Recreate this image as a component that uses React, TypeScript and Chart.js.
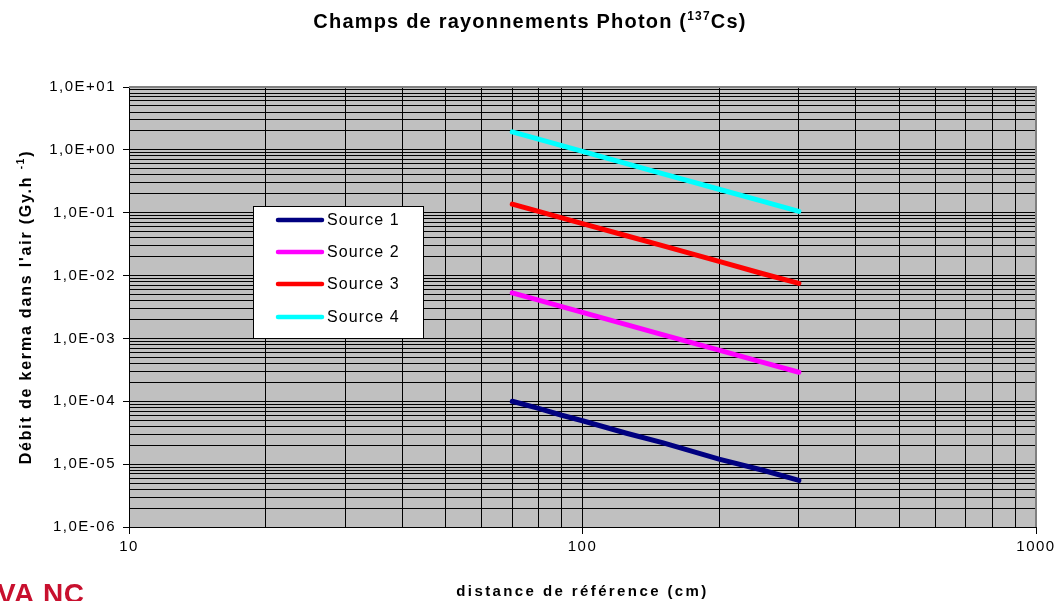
import React, { useEffect, useRef } from 'react';
import { Chart, registerables } from 'chart.js';

Chart.register(...registerables);

// ---- data ----
const distances = [70, 80, 90, 100, 125, 150, 200, 250, 300];
const source1 = [1.0e-4, 7.7e-5, 6.0e-5, 4.9e-5, 3.1e-5, 2.2e-5, 1.2e-5, 8.0e-6, 5.5e-6];
const source2 = [5.3e-3, 4.06e-3, 3.2e-3, 2.6e-3, 1.66e-3, 1.15e-3, 6.5e-4, 4.15e-4, 2.9e-4];
const source3 = [0.137, 0.105, 0.083, 0.067, 0.043, 0.03, 0.0168, 0.0107, 0.0075];
const source4 = [1.93, 1.48, 1.17, 0.945, 0.605, 0.42, 0.236, 0.151, 0.105];
const seriesLabels = ['Source 1', 'Source 2', 'Source 3', 'Source 4'];
const seriesColors = ['#000080', '#FF00FF', '#FF0000', '#00FFFF'];

const xDecades = [10, 100, 1000];
const xTickLabels = ['10', '100', '1000'];
const yDecades = [1e-6, 1e-5, 1e-4, 1e-3, 1e-2, 1e-1, 1, 10];
const yTickLabels = ['1,0E-06', '1,0E-05', '1,0E-04', '1,0E-03', '1,0E-02', '1,0E-01', '1,0E+00', '1,0E+01'];

const titleMain = 'Champs de rayonnements Photon (';
const titleSup = '137';
const titleEnd = 'Cs)';
const yTitleMain = "Débit de kerma dans l'air (Gy.h ";
const yTitleSup = '-1';
const yTitleEnd = ')';
const xTitle = 'distance de référence (cm)';
const logoText = 'VA NC';

const FONT = '"Liberation Sans", Arial, sans-serif';

function gridValues(decades: number[]) {
  const out: number[] = [];
  for (let i = 0; i < decades.length; i++) {
    const d = decades[i];
    if (i === decades.length - 1) {
      out.push(d);
    } else {
      for (let m = 1; m <= 9; m++) out.push(m * d);
    }
  }
  return out;
}

function decadeIndex(v: number, decades: number[]) {
  for (let i = 0; i < decades.length; i++) {
    if (Math.abs(v - decades[i]) / decades[i] < 1e-6) return i;
  }
  return -1;
}

function drawSupText(ctx: CanvasRenderingContext2D, parts: [string, string, string], size: number, supSize: number, ls: string) {
  ctx.font = `bold ${size}px ${FONT}`;
  (ctx as any).letterSpacing = ls;
  const w1 = ctx.measureText(parts[0]).width;
  const w3 = ctx.measureText(parts[2]).width;
  ctx.font = `bold ${supSize}px ${FONT}`;
  const w2 = ctx.measureText(parts[1]).width;
  const total = w1 + w2 + w3;
  let x = -total / 2;
  ctx.textAlign = 'left';
  ctx.textBaseline = 'alphabetic';
  ctx.font = `bold ${size}px ${FONT}`;
  ctx.fillText(parts[0], x, 0);
  x += w1;
  ctx.font = `bold ${supSize}px ${FONT}`;
  ctx.fillText(parts[1], x, -size * 0.42);
  x += w2;
  ctx.font = `bold ${size}px ${FONT}`;
  ctx.fillText(parts[2], x, 0);
}

const decorPlugin = {
  id: 'decor',
  beforeDraw(chart: any) {
    const { ctx, chartArea } = chart;
    ctx.save();
    ctx.fillStyle = '#FFFFFF';
    ctx.fillRect(0, 0, chart.width, chart.height);
    ctx.fillStyle = '#C0C0C0';
    ctx.fillRect(chartArea.left, chartArea.top, chartArea.right - chartArea.left, chartArea.bottom - chartArea.top);
    ctx.restore();
    (ctx as any).letterSpacing = '1.5px';
  },
  afterDraw(chart: any) {
    const { ctx, chartArea } = chart;
    ctx.save();
    ctx.strokeStyle = '#808080';
    ctx.lineWidth = 2;
    ctx.beginPath();
    ctx.moveTo(chartArea.left, chartArea.top);
    ctx.lineTo(chartArea.right, chartArea.top);
    ctx.lineTo(chartArea.right, chartArea.bottom);
    ctx.stroke();

    ctx.fillStyle = '#000000';
    // title
    ctx.save();
    ctx.translate(530, 28);
    drawSupText(ctx, [titleMain, titleSup, titleEnd], 20, 12, '1.2px');
    ctx.restore();

    // y title
    ctx.save();
    ctx.translate(31, (chartArea.top + chartArea.bottom) / 2);
    ctx.rotate(-Math.PI / 2);
    drawSupText(ctx, [yTitleMain, yTitleSup, yTitleEnd], 16, 10, '1.8px');
    ctx.restore();

    // x title
    ctx.font = `bold 15px ${FONT}`;
    (ctx as any).letterSpacing = '2.4px';
    ctx.textAlign = 'center';
    ctx.textBaseline = 'alphabetic';
    ctx.fillText(xTitle, (chartArea.left + chartArea.right) / 2, 596);

    // legend
    const bx = 253, by = 206, bw = 170, bh = 132;
    ctx.fillStyle = '#FFFFFF';
    ctx.fillRect(bx, by, bw, bh);
    ctx.strokeStyle = '#000000';
    ctx.lineWidth = 1;
    ctx.strokeRect(bx + 0.5, by + 0.5, bw, bh);
    const rows = [220, 252, 284, 317];
    ctx.font = `16px ${FONT}`;
    (ctx as any).letterSpacing = '1.1px';
    ctx.textAlign = 'left';
    ctx.textBaseline = 'middle';
    for (let i = 0; i < seriesLabels.length; i++) {
      ctx.strokeStyle = seriesColors[i];
      ctx.lineWidth = 4.5;
      ctx.lineCap = 'round';
      ctx.beginPath();
      ctx.moveTo(278, rows[i]);
      ctx.lineTo(322, rows[i]);
      ctx.stroke();
      ctx.fillStyle = '#000000';
      ctx.fillText(seriesLabels[i], 327, rows[i] + 1);
    }

    // logo fragment
    ctx.font = `bold 28px ${FONT}`;
    (ctx as any).letterSpacing = '0.5px';
    ctx.fillStyle = '#C8102E';
    ctx.textAlign = 'left';
    ctx.textBaseline = 'alphabetic';
    ctx.fillText(logoText, -3, 603);
    ctx.restore();
  },
};

export default function App() {
  const canvasRef = useRef<HTMLCanvasElement | null>(null);

  useEffect(() => {
    const canvas = canvasRef.current;
    if (!canvas) return;
    const series = [source1, source2, source3, source4];
    const xGrid = gridValues(xDecades);
    const yGrid = gridValues(yDecades);

    const chart = new Chart(canvas, {
      type: 'line',
      data: {
        datasets: series.map((vals, i) => ({
          label: seriesLabels[i],
          data: distances.map((d, j) => ({ x: d, y: vals[j] })),
          borderColor: seriesColors[i],
          backgroundColor: seriesColors[i],
          borderWidth: 5,
          borderCapStyle: 'round' as const,
          borderJoinStyle: 'round' as const,
          pointRadius: 0,
          tension: 0,
          fill: false,
        })),
      },
      options: {
        responsive: false,
        devicePixelRatio: 1,
        animation: false,
        layout: { padding: { top: 87, right: 23, bottom: 34, left: 0 } },
        plugins: {
          legend: { display: false },
          title: { display: false },
          tooltip: { enabled: false },
        },
        scales: {
          x: {
            type: 'logarithmic',
            min: 10,
            max: 1000,
            afterBuildTicks: (s: any) => {
              s.ticks = xGrid.map((v) => ({ value: v }));
            },
            afterFit: (s: any) => {
              s.height = 40;
            },
            ticks: {
              autoSkip: false,
              maxRotation: 0,
              minRotation: 0,
              padding: 4,
              color: '#000000',
              font: { family: FONT, size: 15 },
              callback: (v: any) => {
                const idx = decadeIndex(Number(v), xDecades);
                return idx >= 0 ? xTickLabels[idx] : '';
              },
            },
            grid: {
              color: (c: any) => (c.tick && Math.abs(c.tick.value - 1000) < 1e-6 ? '#808080' : '#000000'),
              lineWidth: 1,
              tickLength: 7,
              tickColor: (c: any) => (c.tick && decadeIndex(c.tick.value, xDecades) >= 0 ? '#000000' : 'rgba(0,0,0,0)'),
            },
            border: { color: '#000000', width: 1 },
          },
          y: {
            type: 'logarithmic',
            min: 1e-6,
            max: 10,
            afterBuildTicks: (s: any) => {
              s.ticks = yGrid.map((v) => ({ value: v }));
            },
            afterFit: (s: any) => {
              s.width = 129;
            },
            ticks: {
              autoSkip: false,
              padding: 7,
              color: '#000000',
              font: { family: FONT, size: 15 },
              callback: (v: any) => {
                const idx = decadeIndex(Number(v), yDecades);
                return idx >= 0 ? yTickLabels[idx] : '';
              },
            },
            grid: {
              color: (c: any) => (c.tick && Math.abs(c.tick.value - 10) < 1e-9 ? '#808080' : '#000000'),
              lineWidth: 1,
              tickLength: 6,
              tickColor: (c: any) => (c.tick && decadeIndex(c.tick.value, yDecades) >= 0 ? '#000000' : 'rgba(0,0,0,0)'),
            },
            border: { color: '#000000', width: 1 },
          },
        },
      } as any,
      plugins: [decorPlugin],
    });

    return () => {
      chart.destroy();
    };
  }, []);

  return (
    <div style={{ position: 'fixed', left: 0, top: 0, width: 1059, height: 601, background: '#FFFFFF' }}>
      <canvas ref={canvasRef} width={1059} height={601} style={{ display: 'block', width: 1059, height: 601 }} />
    </div>
  );
}
